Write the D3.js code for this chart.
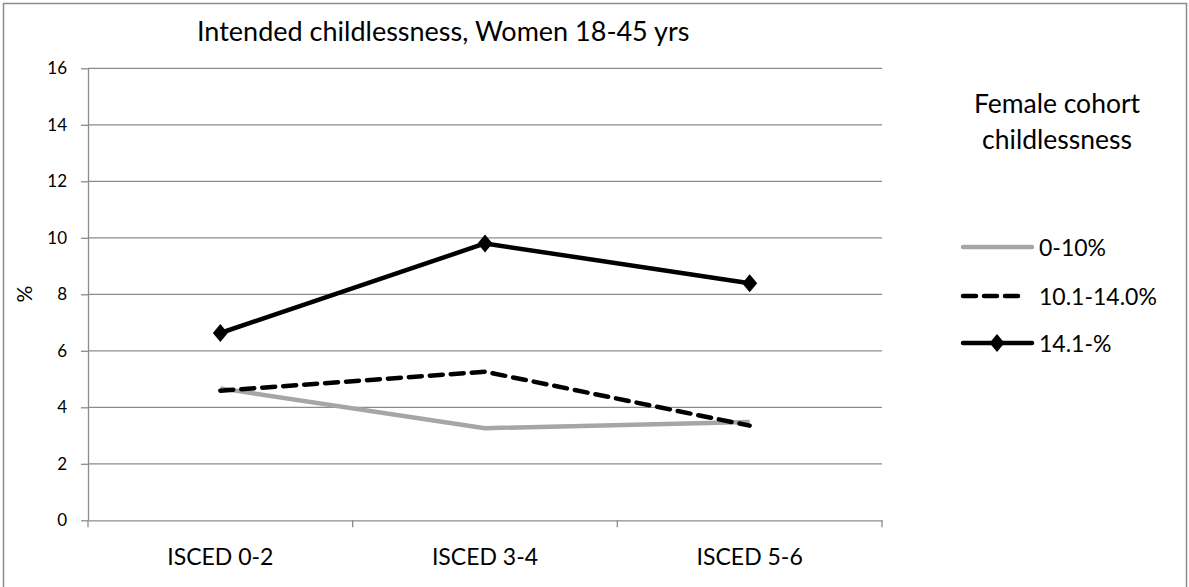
<!DOCTYPE html>
<html><head><meta charset="utf-8">
<script src="https://cdn.jsdelivr.net/npm/d3@7"></script>
<style>
body{margin:0;background:#fff;}
text{font-family:Lato, "Open Sans", sans-serif;fill:#000;}
</style></head>
<body><svg id="c" width="1189" height="587"></svg>
<script>
const categories = ["ISCED 0-2","ISCED 3-4","ISCED 5-6"];
const seriesNames = ["0-10%","10.1-14.0%","14.1-%"];
const low = [4.67,3.26,3.48];
const mid = [4.59,5.26,3.35];
const high = [6.63,9.80,8.39];
const yTicks = [0,2,4,6,8,10,12,14,16];
const title = "Intended childlessness, Women 18-45 yrs";
const legendTitle = ["Female cohort","childlessness"];
const yLabel = "%";

(function(){
const svg = d3.select("#c");
svg.append("rect").attr("x",3.5).attr("y",3.5).attr("width",1183).attr("height",600)
  .attr("fill","#fff").attr("stroke","#8c8c8c").attr("stroke-width",1.5);

const pL=88, pR=882, pT=68.3, pB=520.3;
const x = d3.scaleBand().domain(categories).range([pL,pR]).padding(0);
const y = d3.scaleLinear().domain([0,16]).range([pB,pT]);
const grey="#8c8c8c";

svg.append("g").selectAll("line").data(yTicks.slice(1)).join("line")
  .attr("x1",pL).attr("x2",pR).attr("y1",d=>y(d)).attr("y2",d=>y(d))
  .attr("stroke",grey).attr("stroke-width",1.3);

const ya = svg.append("g").attr("transform",`translate(${pL},0)`)
  .call(d3.axisLeft(y).tickValues(yTicks).tickSize(7).tickPadding(14).tickSizeOuter(0));
ya.select(".domain").attr("stroke",grey).attr("stroke-width",1.3);
ya.selectAll(".tick line").attr("stroke",grey).attr("stroke-width",1.3);
ya.selectAll(".tick text").style("font-size","17px").style("font-family","Lato, sans-serif").attr("fill","#000");

const xa = svg.append("g").attr("transform",`translate(0,${pB})`)
  .call(d3.axisBottom(x).tickSize(0).tickPadding(28));
xa.select(".domain").attr("stroke",grey).attr("stroke-width",1.3);
xa.selectAll(".tick text").style("font-size","23px").style("font-family","Lato, sans-serif").attr("fill","#000");
const bounds = [pL, ...categories.map(c=>x(c)+x.bandwidth())];
svg.append("g").selectAll("line").data(bounds).join("line")
  .attr("x1",d=>d).attr("x2",d=>d).attr("y1",pB).attr("y2",pB+7)
  .attr("stroke",grey).attr("stroke-width",1.3);

const cx = c=>x(c)+x.bandwidth()/2;
const line = d3.line().x((d,i)=>cx(categories[i])).y(d=>y(d));

svg.append("path").datum(low).attr("d",line).attr("fill","none")
  .attr("stroke","#a6a6a6").attr("stroke-width",4.5).attr("stroke-linejoin","round");
svg.append("path").datum(mid).attr("d",line).attr("fill","none")
  .attr("stroke","#000").attr("stroke-width",4.5).attr("stroke-dasharray","13,8").attr("stroke-linecap","round");
svg.append("path").datum(high).attr("d",line).attr("fill","none")
  .attr("stroke","#000").attr("stroke-width",4.5).attr("stroke-linejoin","round");

const diamond = "M0,-9L7.5,0L0,9L-7.5,0Z";
svg.append("g").selectAll("path").data(high).join("path")
  .attr("d",diamond).attr("transform",(d,i)=>`translate(${cx(categories[i])},${y(d)})`).attr("fill","#000");

svg.append("text").attr("x",197).attr("y",41).attr("text-anchor","start")
  .style("font-size","27px").text(title);
svg.append("text").attr("transform","translate(32,294) rotate(-90)").attr("text-anchor","middle")
  .style("font-size","21px").text(yLabel);

const lg = svg.append("g");
lg.selectAll("text.lt").data(legendTitle).join("text").attr("class","lt")
  .attr("x",1057).attr("y",(d,i)=>113+i*36).attr("text-anchor","middle")
  .style("font-size","26.5px").text(d=>d);
const ly = [247,296,343];
const styles = [{c:"#a6a6a6",dash:null},{c:"#000",dash:"13,8"},{c:"#000",dash:null}];
seriesNames.forEach((n,i)=>{
  const l = lg.append("line").attr("x1",963).attr("x2",1032).attr("y1",ly[i]).attr("y2",ly[i])
    .attr("stroke",styles[i].c).attr("stroke-width",4.5).attr("stroke-linecap","round");
  if(styles[i].dash) l.attr("stroke-dasharray",styles[i].dash).attr("x2",1023);
  if(i===2) lg.append("path").attr("d",diamond).attr("transform",`translate(997,${ly[i]})`).attr("fill","#000");
  lg.append("text").attr("x",1039).attr("y",ly[i]+8.5).style("font-size","23px").text(n);
});
})();
</script></body></html>
